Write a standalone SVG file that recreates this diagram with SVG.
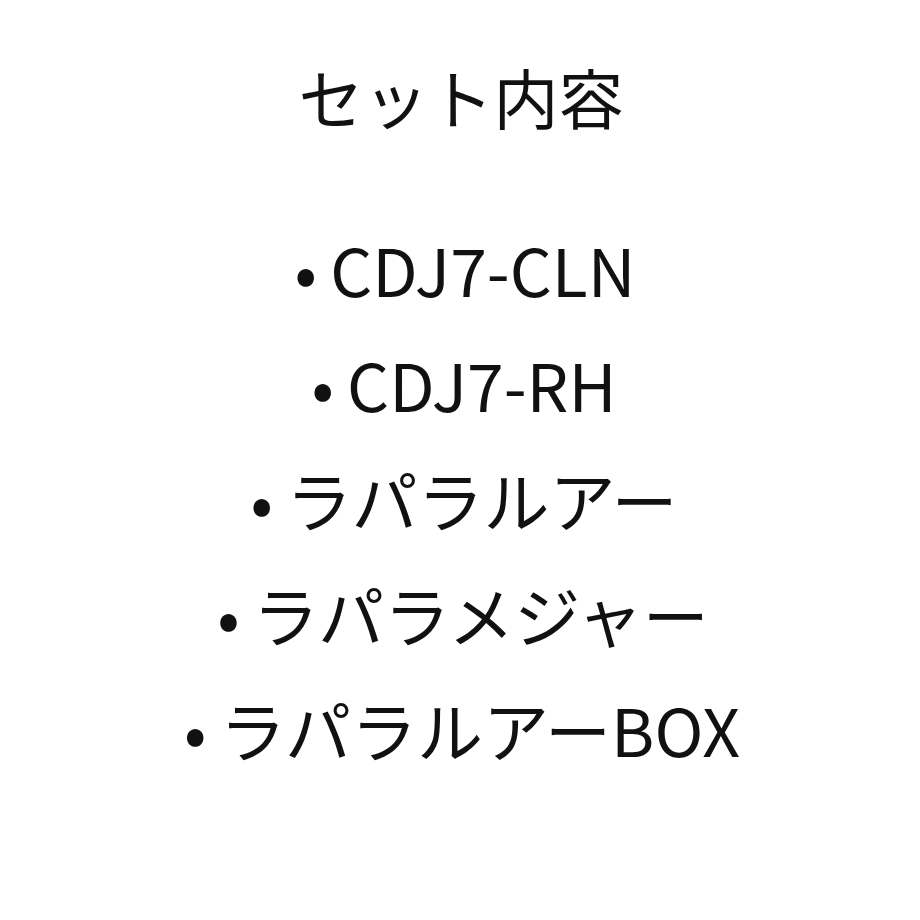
<svg xmlns="http://www.w3.org/2000/svg" width="920" height="920" viewBox="0 0 920 920">
<style>text{font-family:"Noto Sans CJK JP","Noto Sans",sans-serif;fill:#111;text-anchor:middle}.t{font-size:65px}.i{font-size:66px}</style>
<rect width="920" height="920" fill="#fff"/>
<g id="title"><text class="t" x="461" y="124">セット内容</text></g>
<g id="items">
<text class="i" x="465" y="297">•&#8201;CDJ7-CLN</text>
<text class="i" x="464" y="412">•&#8201;CDJ7-RH</text>
<text class="i" x="464" y="527">•&#8201;ラパラルアー</text>
<text class="i" x="463" y="642">•&#8201;ラパラメジャー</text>
<text class="i" x="462" y="757">•&#8201;ラパラルアーBOX</text>
</g>
</svg>
